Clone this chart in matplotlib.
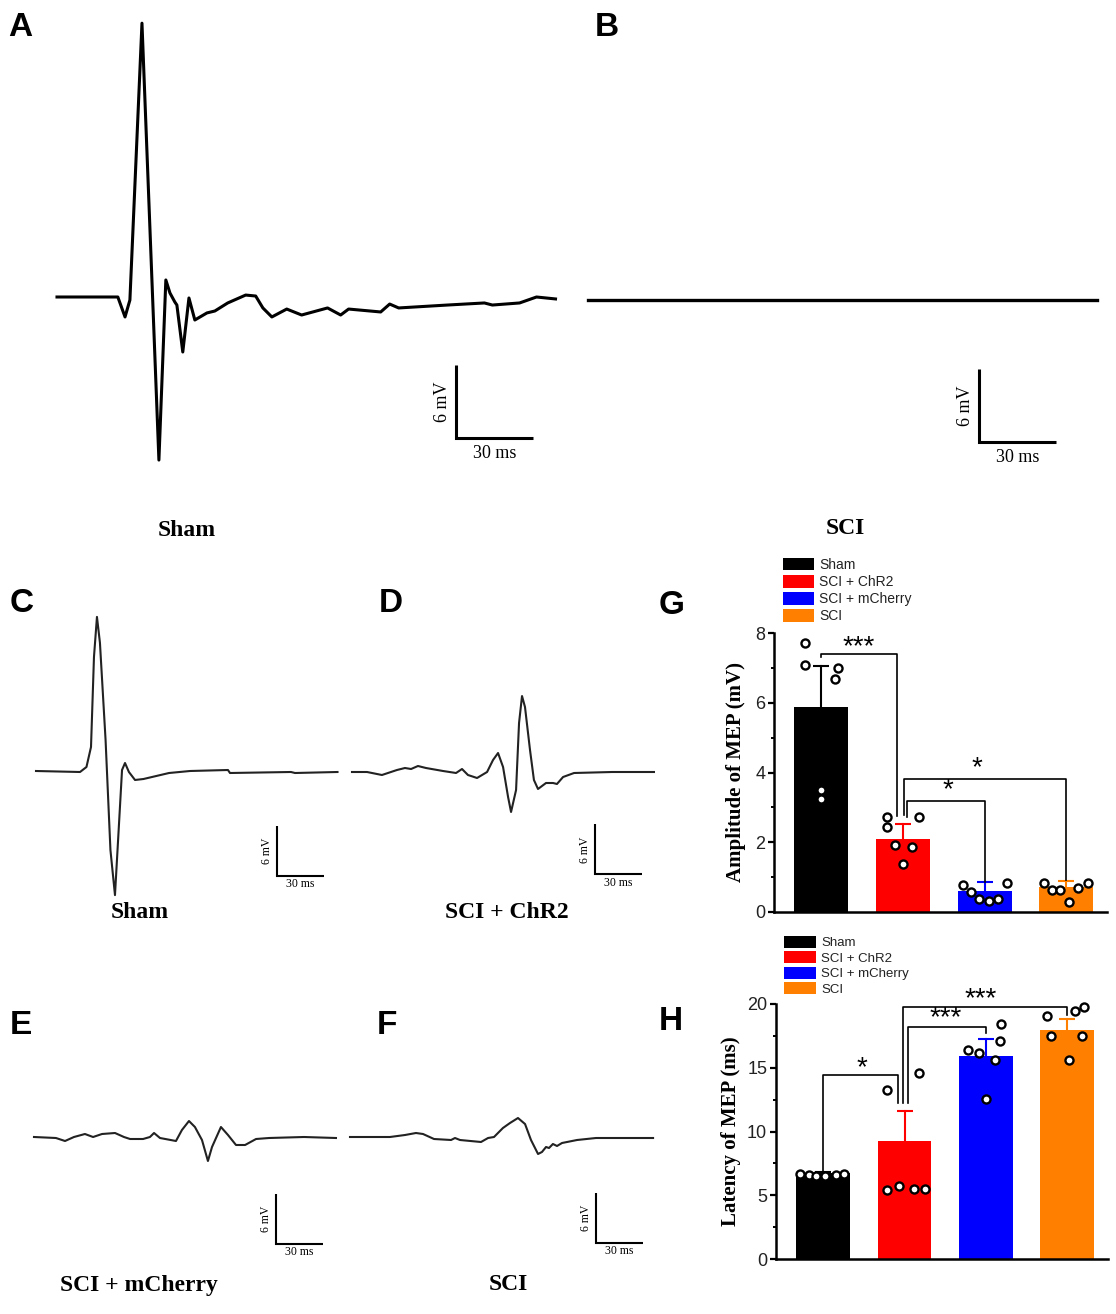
import numpy as np
import matplotlib.pyplot as plt
from matplotlib.patches import Patch

plt.rcParams['font.family'] = ['Liberation Sans', 'DejaVu Sans']

W, H = 1116, 1314

# --- MEP traces: time (ms) and voltage (mV) ---
sham_a_t = [0, 23.7, 26.5, 28.4, 33.1, 39.7, 42.4, 44.0, 45.9, 46.7, 49.0, 51.4, 53.7, 58.4, 61.5, 66.5,
            73.5, 77.4, 80.2, 83.7, 89.5, 95.3, 105.4, 110.5, 113.6, 126.1, 129.6, 133.1, 152.1, 166.5,
            169.6, 180.2, 186.8, 194.2]
sham_a_v = [0, 0, -1.64, -0.25, 22.5, -13.4, 1.40, 0.33, -0.41, -0.66, -4.52, -0.08, -1.89, -1.31, -1.15,
            -0.49, 0.16, 0.08, -0.90, -1.64, -0.99, -1.48, -0.90, -1.48, -0.99, -1.23, -0.58, -0.90, -0.66,
            -0.49, -0.66, -0.49, 0, -0.16]
sci_b_t = [0, 198.3]
sci_b_v = [0, 0]

sham_c_t = [0, 28.1, 32.2, 35.1, 37.0, 38.9, 40.8, 44.4, 47.5, 50.4, 53.0, 54.9, 56.8, 59.3, 63.2, 68.6,
            84.9, 98.3, 122.5, 123.8, 162.7, 165.3, 192.4]
sham_c_v = [0, -0.12, 0.48, 2.88, 13.7, 18.5, 15.4, 3.72, -9.48, -14.9, -6.24, 0.12, 0.96, -0.12, -1.08,
            -0.96, -0.24, 0, 0.12, -0.24, -0.12, -0.24, -0.12]

chr2_d_t = [0, 9.6, 19.1, 28.7, 33.8, 37.7, 42.1, 47.2, 58.1, 66.4, 70.2, 74.0, 79.8, 86.2, 90.0, 93.2,
            96.4, 99.6, 101.5, 104.7, 106.6, 108.5, 110.4, 113.6, 116.1, 118.7, 123.8, 128.3, 130.8,
            134.7, 141.7, 166.0, 192.7]
chr2_d_v = [0, 0, -0.36, 0.24, 0.48, 0.36, 0.72, 0.48, 0.12, -0.12, 0.36, -0.36, -0.72, 0, 1.44, 2.28,
            0.60, -3.0, -4.80, -2.16, 5.88, 9.12, 7.80, 2.64, -0.96, -2.04, -1.32, -1.32, -1.44, -0.60,
            -0.12, 0, 0]

mch_e_t = [0, 14.0, 19.8, 25.5, 32.5, 37.7, 43.4, 51.7, 57.4, 61.3, 69.6, 74.0, 76.6, 80.4, 90.6, 94.4,
           98.9, 102.7, 107.2, 111.0, 113.6, 119.3, 123.8, 128.9, 134.7, 141.7, 150.0, 172.3, 192.7]
mch_e_v = [0, -0.12, -0.48, 0, 0.36, 0, 0.36, 0.48, 0, -0.24, -0.24, 0, 0.48, -0.12, -0.48, 0.84, 1.92,
           1.20, -0.36, -2.88, -1.20, 1.20, 0.24, -0.96, -0.96, -0.24, -0.12, 0, -0.12]

sci_f_t = [0, 25.5, 35.1, 42.1, 46.6, 53.6, 64.5, 67.0, 70.2, 83.6, 88.1, 91.9, 97.6, 102.1, 107.2, 111.7,
           115.5, 120.0, 122.5, 125.1, 127.0, 129.5, 132.1, 135.3, 144.9, 157.0, 193.4]
sci_f_v = [0, 0, 0.24, 0.48, 0.36, -0.24, -0.36, -0.12, -0.36, -0.60, -0.12, 0, 1.08, 1.68, 2.28, 1.56,
           -0.36, -2.04, -1.80, -1.20, -1.32, -0.84, -1.08, -0.72, -0.36, -0.12, -0.12]

# --- bar chart data ---
groups = ['Sham', 'SCI + ChR2', 'SCI + mCherry', 'SCI']
colors = ['#000000', '#ff0000', '#0000ff', '#ff8000']

amp_mean = [5.88, 2.08, 0.61, 0.72]
amp_sem = [1.18, 0.44, 0.24, 0.17]
amp_pts = [[7.72, 7.07, 7.01, 6.69, 3.49, 3.25],
           [2.72, 2.72, 2.44, 1.91, 1.86, 1.37],
           [0.76, 0.57, 0.38, 0.32, 0.38, 0.84],
           [0.83, 0.62, 0.62, 0.29, 0.70, 0.83]]
amp_jit = [[-0.20, -0.20, 0.21, 0.17, 0.0, 0.0],
           [-0.20, 0.20, -0.20, -0.10, 0.11, 0.0],
           [-0.27, -0.17, -0.07, 0.05, 0.17, 0.28],
           [-0.27, -0.17, -0.08, 0.04, 0.15, 0.27]]
# (left x, right x, top y, left end, right end, label, label x, label y)
amp_sig = [(0, 0.93, 7.39, 7.30, 2.75, '***', 0.46, 7.6),
           (1.01, 3.0, 3.81, 2.77, 0.91, '*', 1.91, 4.11),
           (1.05, 2.0, 3.18, 2.72, 0.86, '*', 1.55, 3.49)]

lat_mean = [6.74, 9.29, 15.93, 17.96]
lat_sem = [0.05, 2.35, 1.33, 0.84]
lat_pts = [[6.68, 6.55, 6.53, 6.53, 6.58, 6.68],
           [13.26, 14.57, 5.43, 5.74, 5.48, 5.48],
           [16.40, 16.14, 15.61, 17.13, 18.41, 12.53],
           [19.06, 17.49, 19.48, 19.79, 17.49, 15.61]]
lat_jit = [[-0.28, -0.18, -0.09, 0.02, 0.16, 0.26],
           [-0.22, 0.18, -0.22, -0.07, 0.11, 0.25],
           [-0.22, -0.08, 0.11, 0.17, 0.19, 0.0],
           [-0.25, -0.20, 0.10, 0.20, 0.18, 0.02]]
lat_sig = [(0, 0.92, 14.44, 6.74, 12.22, '*', 0.47, 14.96),
           (1.04, 2.0, 18.17, 12.22, 17.7, '***', 1.51, 18.88),
           (0.98, 3.0, 19.74, 12.22, 19.1, '***', 1.94, 20.37)]

fig = plt.figure(figsize=(W / 100, H / 100), dpi=100)
SERIF = 'Liberation Serif'


def px_axes(left, top, right, bottom):
    return fig.add_axes([left / W, 1 - bottom / H, (right - left) / W, (bottom - top) / H])


def trace_axes(ox, oy, kx, ky, left, right, top, bottom):
    # ox, oy: pixel of t=0 / v=0, kx: px per ms, ky: px per mV
    ax = px_axes(left, top, right, bottom)
    ax.set_xlim((left - ox) / kx, (right - ox) / kx)
    ax.set_ylim((oy - bottom) / ky, (oy - top) / ky)
    ax.axis('off')
    return ax


def scale_bar(ax, t0, v0, lw, fs, dt_txt, dv_txt):
    ax.plot([t0, t0, t0 + 30], [v0 + 6, v0, v0], color='k', lw=lw,
            solid_joinstyle='miter', solid_capstyle='butt')
    ax.text(t0 - dt_txt, v0 + 3, '6 mV', rotation=90, ha='right', va='center',
            fontsize=fs, family=SERIF)
    ax.text(t0 + 15, v0 - dv_txt, '30 ms', ha='center', va='top', fontsize=fs, family=SERIF)


def fig_text(x, y, s, **kw):
    fig.text(x / W, 1 - y / H, s, **kw)


# A / B
ax = trace_axes(57, 297, 2.567, 12.17, 40, 575, 0, 490)
ax.plot(sham_a_t, sham_a_v, color='k', lw=2.2, solid_joinstyle='round')
scale_bar(ax, 155.4, -11.6, 2.2, 13, 2.0, 0.6)

ax = trace_axes(588, 300, 2.567, 12.17, 575, 1110, 0, 490)
ax.plot(sci_b_t, sci_b_v, color='k', lw=2.4)
scale_bar(ax, 152.3, -11.67, 2.2, 13, 2.0, 0.6)

# C - F
small = [(36, 771, 15, 348, 595, 905, sham_c_t, sham_c_v, 153.8, -12.6),
         (352, 772, 345, 665, 595, 905, chr2_d_t, chr2_d_v, 155.1, -12.3),
         (34, 1137, 15, 348, 960, 1275, mch_e_t, mch_e_v, 154.4, -12.8),
         (350, 1137, 345, 665, 960, 1275, sci_f_t, sci_f_v, 157.0, -12.7)]
for ox, oy, l, r, t, b, tt, vv, bt, bv in small:
    ax = trace_axes(ox, oy, 1.567, 8.33, l, r, t, b)
    ax.plot(tt, vv, color='#222222', lw=1.5, solid_joinstyle='round')
    scale_bar(ax, bt, bv, 1.5, 8.5, 2.5, 0.3)

# trace labels
lab_kw = dict(ha='center', va='center', fontsize=17, fontweight='bold', family=SERIF)
fig_text(187, 530, 'Sham', **lab_kw)
fig_text(845, 529, 'SCI', **lab_kw)
fig_text(140, 912, 'Sham', **lab_kw)
fig_text(507, 912, 'SCI + ChR2', **lab_kw)
fig_text(139, 1285, 'SCI + mCherry', **lab_kw)
fig_text(508, 1285, 'SCI', **lab_kw)

# panel letters
let_kw = dict(ha='left', va='center', fontsize=24, fontweight='bold')
for s, x, y in [('A', 8, 28), ('B', 595, 28), ('C', 10, 604), ('D', 379, 604), ('G', 659, 605),
                ('E', 10, 1025), ('F', 377, 1025), ('H', 659, 1022)]:
    fig_text(x, y, s, **let_kw)


def bar_panel(rect, mean, sem, pts, jit, sig, ylim, major, minor, ylabel, lab_x):
    ax = px_axes(*rect)
    x = np.arange(len(groups))
    ax.bar(x, mean, width=0.66, color=colors, zorder=2)
    for i in range(len(groups)):
        top = mean[i] + sem[i]
        ax.plot([x[i], x[i]], [mean[i], top], color=colors[i], lw=1.5, zorder=3)
        ax.plot([x[i]], [top], marker='_', ms=12, mew=1.5, color=colors[i], zorder=3)
        ax.plot(x[i] + np.array(jit[i]), pts[i], 'o', ms=5.8, mfc='white', mec='black',
                mew=1.7, zorder=5, clip_on=False)
    for x1, x2, y, y1, y2, lab, lx, ly in sig:
        ax.plot([x1, x1, x2, x2], [y1, y, y, y2], color='k', lw=1.2, zorder=4, clip_on=False)
        ax.annotate(lab, (lx, ly), xytext=(0, 0), textcoords='offset points', ha='center',
                    va='center', fontsize=20, annotation_clip=False)
    ax.set_xlim(-0.58, 3.5)
    ax.set_ylim(*ylim)
    ax.set_xticks([])
    ax.set_yticks(major)
    ax.set_yticks(minor, minor=True)
    for sp in ['top', 'right']:
        ax.spines[sp].set_visible(False)
    for sp in ['left', 'bottom']:
        ax.spines[sp].set_linewidth(1.8)
    ax.tick_params(axis='y', which='major', length=4.3, width=1.6, labelsize=13, pad=2,
                   labelcolor='#222222')
    ax.tick_params(axis='y', which='minor', length=2.5, width=1.4)
    ax.set_ylabel(ylabel, family=SERIF, fontweight='bold', fontsize=15)
    ax.yaxis.set_label_coords(lab_x, 0.5)
    return ax


bar_panel((774, 633, 1107, 912), amp_mean, amp_sem, amp_pts, amp_jit, amp_sig, (0, 8),
          [0, 2, 4, 6, 8], [1, 3, 5, 7], 'Amplitude of MEP (mV)', -0.085)
bar_panel((776, 1004, 1108, 1259), lat_mean, lat_sem, lat_pts, lat_jit, lat_sig, (0, 20),
          [0, 5, 10, 15, 20], [2.5, 7.5, 12.5, 17.5], 'Latency of MEP (ms)', -0.105)

handles = [Patch(facecolor=c, edgecolor='none') for c in colors]
fig.legend(handles, groups, loc='upper left', bbox_to_anchor=(783 / W, 1 - 558 / H),
           frameon=False, fontsize=10, handlelength=2.2, handleheight=1.0, labelspacing=0.22,
           handletextpad=0.4, borderpad=0, borderaxespad=0, labelcolor='#222222')
fig.legend(handles, groups, loc='upper left', bbox_to_anchor=(784 / W, 1 - 936 / H),
           frameon=False, fontsize=9.5, handlelength=2.4, handleheight=1.0, labelspacing=0.15,
           handletextpad=0.4, borderpad=0, borderaxespad=0, labelcolor='#222222')

fig.savefig('out.png', dpi=100)
